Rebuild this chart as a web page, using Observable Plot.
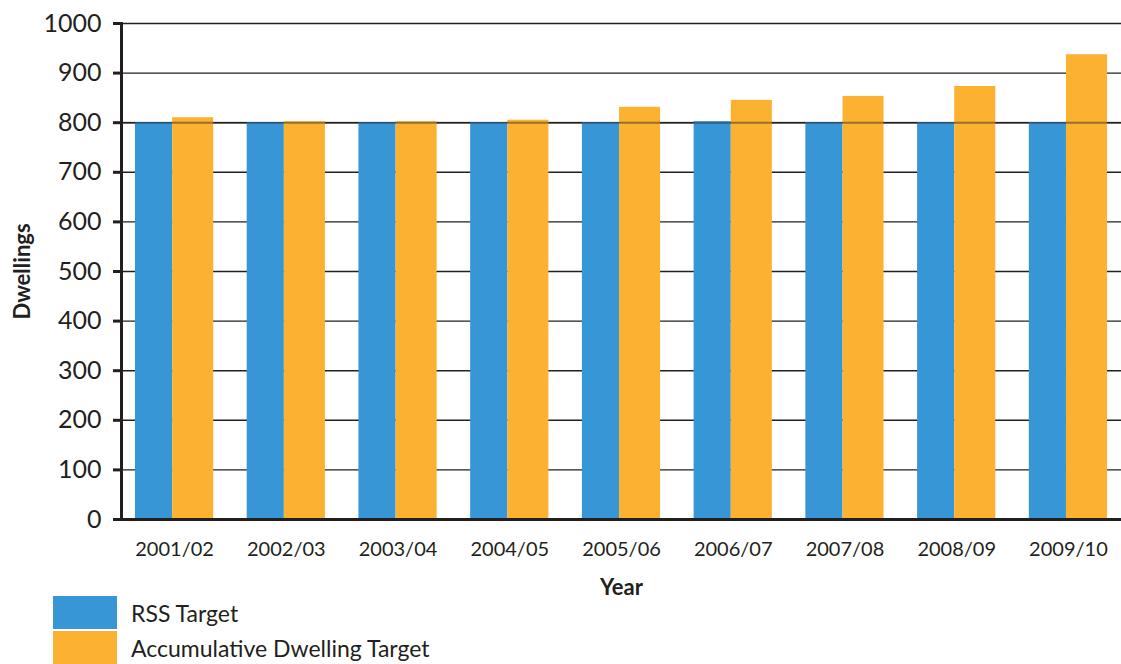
<!DOCTYPE html>
<html>
<head>
<meta charset="utf-8">
<script src="https://cdn.jsdelivr.net/npm/d3@7"></script>
<script src="https://cdn.jsdelivr.net/npm/@observablehq/plot@0.6"></script>
<style>
  html, body { margin: 0; background: #fff; overflow: hidden; font-family: Lato, "Open Sans", sans-serif; color: #231f20; }
  #chart svg { display: block; max-width: none !important; width: 1121px; }
  g[aria-label="y-axis label"] text, g[aria-label="x-axis label"] text { font-weight: bold; }
  .legend { margin-left: 53px; margin-top: -4px; position: relative; }
  .legend .row { display: flex; align-items: center; height: 33px; margin-bottom: 2px; }
  .legend .sw { width: 64px; height: 33px; margin-right: 14px; }
  .legend .lab { font-size: 23px; color: #231f20; }
</style>
</head>
<body>
<div id="chart"></div>
<div class="legend" id="legend"></div>
<script>
const years = ["2001/02","2002/03","2003/04","2004/05","2005/06","2006/07","2007/08","2008/09","2009/10"];
const rssTarget = [800, 800, 800, 800, 800, 802, 800, 800, 800];
const accTarget = [810, 802, 802, 805, 831, 845, 853, 873, 937];
const seriesNames = ["RSS Target", "Accumulative Dwelling Target"];
const seriesColors = ["#3796d5", "#fcb131"];
const yTicks = [0,100,200,300,400,500,600,700,800,900,1000];

const rows = years.map((y, i) => ({year: y, rss: rssTarget[i], acc: accTarget[i]}));

const W = 1121, H = 600, mL = 121, mR = 0;
const pin = 0.3, pout = 0.125;
const step = (W - mL - mR) / (years.length - pin + 2 * pout);
const band = step * (1 - pin);
const blueW = band * 0.475;

const chart = Plot.plot({
  width: W,
  height: H,
  marginLeft: mL,
  marginRight: mR,
  marginTop: 23,
  marginBottom: 81,
  style: {fontFamily: "Lato, 'Open Sans', sans-serif", color: "#231f20", background: "#fff", overflow: "visible"},
  x: {domain: years, paddingInner: pin, paddingOuter: pout, round: false},
  y: {domain: [0, 1000]},
  marks: [
    Plot.gridY(yTicks, {stroke: "#231f20", strokeOpacity: 1, strokeWidth: 1.4}),
    Plot.barY(rows, {x: "year", y: "rss", fill: seriesColors[0], insetRight: band - blueW}),
    Plot.barY(rows, {x: "year", y: "acc", fill: seriesColors[1], insetLeft: blueW}),
    Plot.ruleY([800], {stroke: "#231f20", strokeOpacity: 0.45, strokeWidth: 2}),
    Plot.ruleY([0], {stroke: "#231f20", strokeWidth: 3}),
    Plot.frame({anchor: "left", stroke: "#231f20", strokeWidth: 3}),
    Plot.axisY(yTicks, {tickSize: 8, tickPadding: 12, fontSize: 25, strokeWidth: 3, stroke: "#231f20",
      tickFormat: d3.format("d"),
      label: "Dwellings", labelAnchor: "center", labelOffset: 107, labelArrow: "none"}),
    Plot.axisX({tickSize: 0, tickPadding: 22, fontSize: 20,
      label: "Year", labelAnchor: "center", labelOffset: 75, labelArrow: "none"})
  ]
});
document.getElementById("chart").appendChild(chart);
chart.querySelectorAll('g[aria-label="y-axis label"] text, g[aria-label="x-axis label"] text')
  .forEach(t => t.setAttribute("font-size", 22));

const legend = document.getElementById("legend");
seriesNames.forEach((n, i) => {
  const r = document.createElement("div");
  r.className = "row";
  r.innerHTML = `<div class="sw" style="background:${seriesColors[i]}"></div><div class="lab">${n}</div>`;
  legend.appendChild(r);
});
</script>
</body>
</html>
